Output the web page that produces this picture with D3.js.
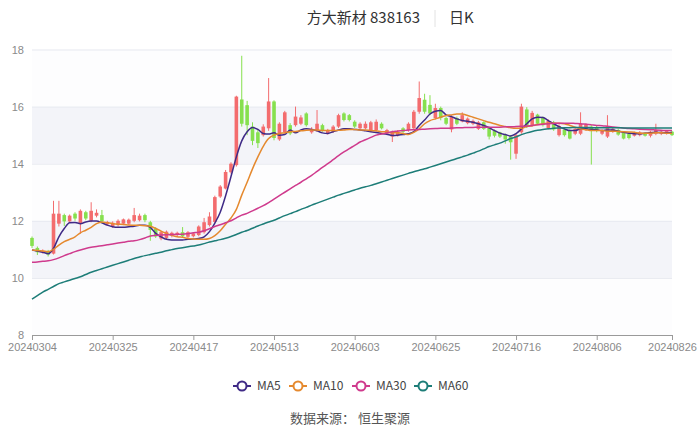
<!DOCTYPE html>
<html>
<head>
<meta charset="utf-8">
<script src="https://cdn.jsdelivr.net/npm/d3@7"></script>
<style>
  body { margin: 0; background: #fff; }
  svg { display: block; font-family: "Noto Sans CJK SC", "Noto Sans", sans-serif; }
</style>
</head>
<body>
<div id="chart"></div>
<script>
// trading days
const dates = [
  "20240304","20240305","20240306","20240307","20240308","20240311","20240312","20240313","20240314","20240315",
  "20240318","20240319","20240320","20240321","20240322","20240325","20240326","20240327","20240328","20240329",
  "20240401","20240402","20240403","20240408","20240409","20240410","20240411","20240412","20240415","20240416",
  "20240417","20240418","20240419","20240422","20240423","20240424","20240425","20240426","20240429","20240430",
  "20240506","20240507","20240508","20240509","20240510","20240513","20240514","20240515","20240516","20240517",
  "20240520","20240521","20240522","20240523","20240524","20240527","20240528","20240529","20240530","20240531",
  "20240603","20240604","20240605","20240606","20240607","20240611","20240612","20240613","20240614","20240617",
  "20240618","20240619","20240620","20240621","20240624","20240625","20240626","20240627","20240628","20240701",
  "20240702","20240703","20240704","20240705","20240708","20240709","20240710","20240711","20240712","20240715",
  "20240716","20240717","20240718","20240719","20240722","20240723","20240724","20240725","20240726","20240729",
  "20240730","20240731","20240801","20240802","20240805","20240806","20240807","20240808","20240809","20240812",
  "20240813","20240814","20240815","20240816","20240819","20240820","20240821","20240822","20240823","20240826"
];

const open = [
  11.40,11.05,10.90,10.92,10.85,11.90,12.20,11.98,12.25,11.90,
  12.30,12.00,12.18,12.20,11.88,11.80,11.85,11.90,11.90,12.00,
  12.02,12.20,11.95,11.72,11.38,11.40,11.48,11.50,11.60,11.44,
  11.46,11.50,11.60,11.85,11.96,12.85,13.13,13.70,13.95,16.25,
  16.05,15.30,15.10,15.00,15.24,16.18,14.85,15.10,15.35,15.35,
  15.40,15.76,15.10,15.18,15.35,15.06,15.12,15.30,15.76,15.70,
  15.47,15.24,15.24,15.18,15.18,15.40,15.06,14.95,15.00,15.24,
  15.18,15.24,15.82,16.24,16.06,15.60,15.95,15.60,15.20,15.60,
  15.48,15.42,15.40,15.22,15.45,15.28,15.16,15.10,15.00,14.95,
  14.35,15.10,15.90,15.35,15.72,15.60,15.25,15.45,15.00,15.20,
  15.16,15.05,15.05,15.20,15.30,15.28,15.05,14.95,15.12,15.18,
  15.10,15.05,14.98,15.00,15.08,14.98,15.05,15.05,15.06,15.12
];
const close = [
  11.12,10.90,10.95,10.82,12.25,12.25,11.98,12.18,12.08,12.35,
  12.08,12.35,12.28,11.98,11.96,11.93,12.00,12.05,12.04,12.20,
  12.18,12.02,11.68,11.45,11.60,11.62,11.58,11.58,11.46,11.60,
  11.56,11.80,11.95,12.15,12.83,13.20,13.71,14.00,16.35,15.40,
  15.35,14.80,14.72,15.30,16.18,14.90,15.40,15.80,15.06,15.65,
  15.62,15.35,15.22,15.40,15.18,15.18,15.30,15.70,15.53,15.53,
  15.30,15.40,15.40,15.45,15.47,15.24,15.18,15.12,15.12,15.12,
  15.40,15.82,16.30,15.82,15.76,15.95,15.60,15.40,15.65,15.40,
  15.70,15.58,15.50,15.45,15.22,14.95,14.98,14.95,14.85,14.75,
  15.00,16.00,15.30,15.78,15.40,15.35,15.50,15.20,15.32,15.00,
  14.88,15.22,15.40,15.38,15.15,15.15,15.15,15.32,15.22,15.02,
  14.88,14.90,15.10,15.10,14.98,15.12,15.18,15.12,15.15,15.00
];
const low = [
  11.05,10.80,10.85,10.75,10.82,11.80,11.82,11.95,12.00,11.55,
  12.02,11.95,12.12,11.92,11.82,11.75,11.80,11.85,11.86,11.95,
  11.98,11.95,11.30,11.40,11.32,11.36,11.42,11.45,11.42,11.40,
  11.42,11.46,11.55,11.80,11.92,12.80,13.10,13.65,13.90,15.30,
  15.00,14.65,14.55,14.95,15.15,14.82,14.80,15.05,15.00,15.30,
  15.35,15.30,15.05,15.12,15.12,15.02,15.08,15.25,15.48,15.48,
  15.25,15.20,15.20,15.14,15.12,15.20,15.00,14.76,14.95,15.08,
  15.12,15.20,15.75,15.75,15.70,15.55,15.52,15.35,15.10,15.35,
  15.45,15.38,15.35,15.18,15.18,14.85,14.92,14.90,14.70,14.14,
  14.17,15.05,15.25,15.30,15.35,15.30,15.20,15.15,14.95,14.95,
  14.85,15.00,15.00,15.15,13.97,15.10,15.00,14.90,15.08,14.98,
  14.85,14.85,14.95,14.96,14.95,14.92,15.00,15.00,15.02,14.97
];
const high = [
  11.45,11.10,11.00,10.98,12.70,12.70,12.25,12.22,12.30,12.40,
  12.35,12.65,12.40,12.38,12.00,11.98,12.05,12.08,12.08,12.45,
  12.25,12.25,12.00,11.78,11.65,11.66,11.62,11.62,11.78,11.64,
  11.60,11.84,12.10,12.30,12.88,13.25,13.78,14.05,16.38,17.78,
  16.20,15.45,15.20,15.38,17.00,16.22,15.45,15.85,15.42,16.00,
  15.70,15.80,15.28,15.88,15.40,15.22,15.35,15.75,15.80,15.74,
  15.52,15.45,15.48,15.50,15.55,15.45,15.22,15.16,15.18,15.28,
  15.45,15.88,16.88,16.45,16.40,16.10,16.00,15.65,15.70,15.65,
  15.80,15.62,15.55,15.50,15.48,15.30,15.20,15.12,15.05,15.00,
  15.05,16.10,15.98,15.85,15.75,15.65,15.55,15.50,15.38,15.25,
  15.20,15.28,15.80,15.42,15.35,15.32,15.20,15.70,15.26,15.22,
  15.12,15.08,15.12,15.14,15.10,15.15,15.40,15.16,15.18,15.15
];

const ma5 = [
  10.98,10.94,10.90,10.85,11.03,11.44,11.73,11.93,11.94,11.90,
  11.96,11.99,11.99,11.93,11.85,11.79,11.77,11.77,11.79,11.81,
  11.84,11.84,11.77,11.56,11.44,11.35,11.33,11.33,11.33,11.35,
  11.36,11.38,11.44,11.62,11.92,12.30,12.88,13.55,14.24,14.80,
  15.12,15.27,15.20,15.06,15.04,15.08,15.00,15.02,15.18,15.08,
  15.18,15.22,15.20,15.15,15.08,15.06,15.12,15.18,15.22,15.22,
  15.20,15.18,15.15,15.12,15.09,15.06,15.03,14.99,15.00,15.02,
  15.05,15.12,15.34,15.53,15.74,15.84,15.86,15.71,15.65,15.57,
  15.51,15.49,15.45,15.40,15.34,15.26,15.16,15.07,15.02,14.97,
  15.05,15.22,15.40,15.57,15.63,15.62,15.51,15.40,15.30,15.22,
  15.16,15.16,15.22,15.22,15.20,15.19,15.16,15.18,15.18,15.14,
  15.10,15.07,15.05,15.05,15.07,15.08,15.10,15.09,15.08,15.09
];
const ma10 = [
  10.98,10.96,10.94,10.92,11.00,11.15,11.27,11.35,11.44,11.58,
  11.67,11.77,11.90,11.96,11.93,11.90,11.88,11.87,11.85,11.84,
  11.84,11.83,11.81,11.73,11.64,11.56,11.49,11.44,11.42,11.38,
  11.36,11.35,11.35,11.38,11.48,11.65,11.88,12.10,12.40,12.90,
  13.35,13.82,14.24,14.61,14.88,15.00,15.06,15.08,15.12,15.13,
  15.15,15.17,15.18,15.18,15.16,15.16,15.16,15.17,15.18,15.20,
  15.20,15.18,15.18,15.16,15.15,15.12,15.11,15.08,15.08,15.06,
  15.02,15.10,15.22,15.40,15.51,15.57,15.63,15.69,15.71,15.74,
  15.74,15.69,15.63,15.57,15.51,15.45,15.40,15.34,15.30,15.26,
  15.24,15.24,15.30,15.33,15.37,15.40,15.42,15.42,15.42,15.40,
  15.34,15.28,15.22,15.19,15.16,15.16,15.16,15.14,15.14,15.13,
  15.12,15.11,15.10,15.07,15.07,15.07,15.08,15.08,15.07,15.07
];
const ma30 = [
  10.55,10.56,10.58,10.60,10.64,10.70,10.78,10.85,10.92,10.98,
  11.03,11.07,11.10,11.13,11.16,11.19,11.22,11.25,11.28,11.30,
  11.34,11.40,11.47,11.49,11.50,11.51,11.52,11.53,11.53,11.55,
  11.58,11.60,11.65,11.72,11.80,11.86,11.93,12.00,12.10,12.20,
  12.26,12.35,12.44,12.53,12.64,12.76,12.88,13.00,13.12,13.24,
  13.35,13.47,13.59,13.73,13.87,14.00,14.14,14.28,14.41,14.53,
  14.64,14.76,14.84,14.92,15.00,15.04,15.08,15.12,15.14,15.16,
  15.18,15.19,15.20,15.21,15.22,15.23,15.24,15.24,15.25,15.26,
  15.26,15.27,15.27,15.28,15.28,15.28,15.28,15.28,15.29,15.29,
  15.30,15.31,15.32,15.34,15.36,15.38,15.40,15.41,15.42,15.42,
  15.42,15.41,15.40,15.38,15.36,15.34,15.33,15.31,15.29,15.27,
  15.25,15.23,15.22,15.21,15.20,15.19,15.18,15.17,15.16,15.16
];
const ma60 = [
  9.26,9.38,9.50,9.60,9.70,9.80,9.86,9.92,9.98,10.04,
  10.12,10.20,10.26,10.32,10.38,10.44,10.50,10.56,10.62,10.68,
  10.73,10.78,10.82,10.86,10.90,10.95,10.99,11.03,11.06,11.09,
  11.12,11.15,11.20,11.26,11.30,11.34,11.39,11.45,11.52,11.60,
  11.66,11.74,11.82,11.89,11.96,12.02,12.10,12.18,12.25,12.32,
  12.40,12.47,12.55,12.62,12.69,12.76,12.83,12.90,12.96,13.02,
  13.08,13.14,13.19,13.24,13.30,13.36,13.42,13.48,13.54,13.60,
  13.66,13.72,13.77,13.82,13.88,13.94,14.00,14.06,14.12,14.18,
  14.24,14.30,14.37,14.44,14.52,14.60,14.66,14.72,14.80,14.88,
  14.94,15.02,15.08,15.13,15.17,15.20,15.22,15.24,15.25,15.26,
  15.26,15.27,15.27,15.27,15.26,15.26,15.26,15.26,15.26,15.26,
  15.25,15.25,15.25,15.25,15.25,15.25,15.25,15.25,15.25,15.25
];

const yTicks = [8, 10, 12, 14, 16, 18];
const xLabelDates = ["20240304","20240325","20240417","20240513","20240603","20240625","20240716","20240806","20240826"];

const series = [
  {name: "MA5", values: ma5, color: "#3f2a86"},
  {name: "MA10", values: ma10, color: "#e5892e"},
  {name: "MA30", values: ma30, color: "#cf3a8d"},
  {name: "MA60", values: ma60, color: "#1d7d78"}
];

const width = 700, height = 427;
const margin = {top: 49.5, right: 28, bottom: 92, left: 32};
const innerW = width - margin.left - margin.right;

const svg = d3.select("#chart").append("svg")
  .attr("width", width)
  .attr("height", height);

const x = d3.scalePoint()
  .domain(dates)
  .range([margin.left, width - margin.right]);

const y = d3.scaleLinear()
  .domain([8, 18])
  .range([height - margin.bottom, margin.top]);

// alternating bands
svg.append("g")
  .selectAll("rect")
  .data(d3.pairs(yTicks))
  .join("rect")
    .attr("x", margin.left)
    .attr("width", innerW)
    .attr("y", d => y(d[1]))
    .attr("height", d => y(d[0]) - y(d[1]))
    .attr("fill", (d, i) => i % 2 ? "#f3f4f9" : "#fdfdfe");

// y axis with grid lines
const yAxis = svg.append("g")
  .attr("transform", `translate(${margin.left},0)`)
  .call(d3.axisLeft(y).tickValues(yTicks).tickSize(-innerW).tickPadding(8));
yAxis.select(".domain").remove();
yAxis.selectAll(".tick line").attr("stroke", "#e7e9f0");
yAxis.selectAll(".tick:first-of-type line").remove();
yAxis.selectAll("text")
  .attr("fill", "#8a8a8a")
  .style("font-size", "11px");

// x axis
const xAxis = svg.append("g")
  .attr("transform", `translate(0,${height - margin.bottom})`)
  .call(d3.axisBottom(x).tickValues(xLabelDates).tickSize(5).tickPadding(3));
xAxis.select(".domain").attr("stroke", "#9a9a9a");
xAxis.selectAll(".tick line").attr("stroke", "#9a9a9a");
xAxis.selectAll("text")
  .attr("fill", "#8a8a8a")
  .style("font-size", "11px");

// candles
const upColor = "#f36c6e", downColor = "#86e04e";
const bodyW = 3.6;
const candles = svg.append("g")
  .selectAll("g")
  .data(dates)
  .join("g")
    .attr("transform", d => `translate(${x(d)},0)`);

candles.append("line")
  .attr("y1", (d, i) => y(high[i]))
  .attr("y2", (d, i) => y(low[i]))
  .attr("stroke", (d, i) => close[i] >= open[i] ? upColor : downColor)
  .attr("stroke-width", 1);

candles.append("rect")
  .attr("x", -bodyW / 2)
  .attr("width", bodyW)
  .attr("y", (d, i) => y(Math.max(open[i], close[i])))
  .attr("height", (d, i) => Math.max(1, Math.abs(y(open[i]) - y(close[i]))))
  .attr("fill", (d, i) => close[i] >= open[i] ? upColor : downColor);

// moving averages
const line = d3.line()
  .x((d, i) => x(dates[i]))
  .y(d => y(d))
  .curve(d3.curveMonotoneX);

svg.append("g")
  .selectAll("path")
  .data(series)
  .join("path")
    .attr("d", d => line(d.values))
    .attr("fill", "none")
    .attr("stroke", d => d.color)
    .attr("stroke-width", 1.5);

// title
svg.append("text")
  .attr("x", 420).attr("y", 23)
  .attr("text-anchor", "end")
  .attr("fill", "#333")
  .style("font-size", "15px")
  .text("方大新材 838163");
svg.append("line")
  .attr("x1", 435).attr("x2", 435)
  .attr("y1", 10).attr("y2", 27)
  .attr("stroke", "#e2e2e2");
svg.append("text")
  .attr("x", 449).attr("y", 23)
  .attr("fill", "#333")
  .style("font-size", "15px")
  .text("日K");

// legend
const legendX = [233, 289, 352, 414];
const legend = svg.append("g")
  .selectAll("g")
  .data(series)
  .join("g")
    .attr("transform", (d, i) => `translate(${legendX[i]},386)`);
legend.append("line")
  .attr("x1", 0).attr("x2", 18)
  .attr("stroke", d => d.color)
  .attr("stroke-width", 2);
legend.append("circle")
  .attr("cx", 9).attr("r", 4.5)
  .attr("fill", "#fff")
  .attr("stroke", d => d.color)
  .attr("stroke-width", 2);
legend.append("text")
  .attr("x", 24).attr("dy", "0.35em")
  .attr("fill", "#444")
  .style("font-size", "12px")
  .text(d => d.name);

// source
svg.append("text")
  .attr("x", 350).attr("y", 423)
  .attr("text-anchor", "middle")
  .attr("fill", "#555")
  .style("font-size", "13px")
  .text("数据来源：  恒生聚源");
</script>
</body>
</html>
